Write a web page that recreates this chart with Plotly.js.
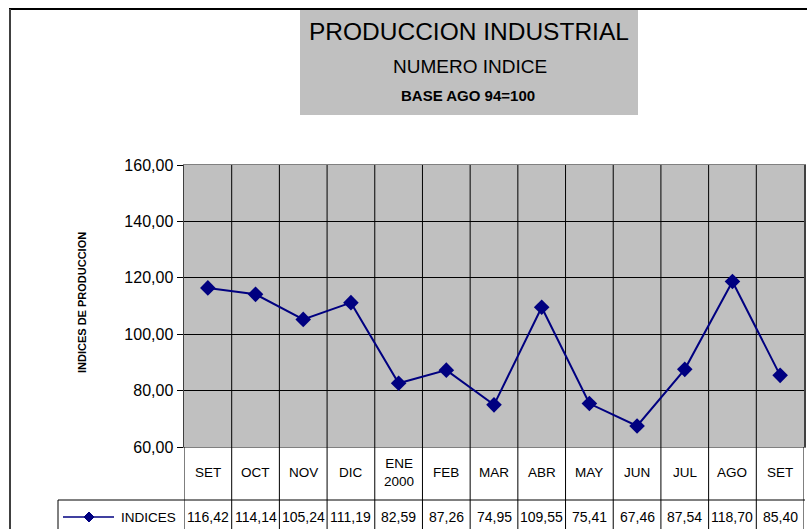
<!DOCTYPE html>
<html><head><meta charset="utf-8">
<script src="https://cdn.plot.ly/plotly-3.0.1.min.js"></script>
<style>html,body{margin:0;padding:0;background:#fff}#c{width:807px;height:529px}</style>
</head><body><div id="c"></div>
<script>
const categories = ["SET","OCT","NOV","DIC","ENE<br>2000","FEB","MAR","ABR","MAY","JUN","JUL","AGO","SET"];
const indices = [116.42,114.14,105.24,111.19,82.59,87.26,74.95,109.55,75.41,67.46,87.54,118.70,85.40];
const seriesName = "INDICES";
const titleLines = ["PRODUCCION INDUSTRIAL","NUMERO INDICE","BASE AGO 94=100"];
const yTitle = "INDICES DE PRODUCCION";

const W = 807, H = 529, L = 184, R = 3, T = 165, B = 82;
const pw = W - L - R, ph = H - T - B;
const px = q => (q - L) / pw;          // pixel x -> paper x
const py = p => (H - B - p) / ph;      // pixel y -> paper y
const FONT = "Liberation Sans, Arial, sans-serif";
const navy = "#000080";

const xs = categories.map((c, i) => i);

const shapes = [];
const annotations = [];

// table vertical lines at category boundaries
for (let i = 0; i <= categories.length; i++) {
  shapes.push({type:"line", xref:"x", yref:"paper", x0:i-0.5, x1:i-0.5, y0:0, y1:py(H+2),
    line:{color:"#000", width:1}});
}
// horizontal line between label row and value row
shapes.push({type:"line", xref:"paper", yref:"paper", x0:px(58), x1:px(805), y0:py(500), y1:py(500), line:{color:"#000", width:1}});
// legend cell left edge
shapes.push({type:"line", xref:"paper", yref:"paper", x0:px(58), x1:px(58), y0:py(500), y1:py(H+2), line:{color:"#000", width:1}});
// legend symbol line
shapes.push({type:"line", xref:"paper", yref:"paper", x0:px(63), x1:px(114), y0:py(517), y1:py(517), line:{color:navy, width:1.5}});
// legend diamond
const dx = 5/pw, dy = 5/ph, cx = px(89), cy = py(517);
shapes.push({type:"path", xref:"paper", yref:"paper",
  path:`M ${cx-dx},${cy} L ${cx},${cy+dy} L ${cx+dx},${cy} L ${cx},${cy-dy} Z`,
  fillcolor:navy, line:{color:navy, width:1}});
// title box
shapes.push({type:"rect", xref:"paper", yref:"paper", layer:"below", x0:px(300), x1:px(638), y0:py(115), y1:py(10),
  fillcolor:"#c0c0c0", line:{width:0}});
// chart border (top and left)
shapes.push({type:"line", xref:"paper", yref:"paper", x0:px(9), x1:px(W+2), y0:py(9), y1:py(9), line:{color:"#000", width:2}});
shapes.push({type:"line", xref:"paper", yref:"paper", x0:px(10), x1:px(10), y0:py(9), y1:py(H+2), line:{color:"#404040", width:2}});

// category labels and values (data table)
categories.forEach((c, i) => {
  annotations.push({xref:"x", yref:"paper", x:i, y:py(472), text:c, showarrow:false,
    font:{family:FONT, size:13.5, color:"#000"}, yanchor:"middle"});
  annotations.push({xref:"x", yref:"paper", x:i, y:py(517), text:indices[i].toFixed(2).replace(".", ","), showarrow:false,
    font:{family:FONT, size:14, color:"#000"}, yanchor:"middle"});
});
annotations.push({xref:"paper", yref:"paper", x:px(119), y:py(517), xanchor:"left", yanchor:"middle", text:seriesName,
  showarrow:false, font:{family:FONT, size:13.5, color:"#000"}});

// titles
annotations.push({xref:"paper", yref:"paper", x:px(469), y:py(31), text:titleLines[0], showarrow:false, yanchor:"middle",
  font:{family:FONT, size:24.5, color:"#000"}});
annotations.push({xref:"paper", yref:"paper", x:px(470), y:py(66), text:titleLines[1], showarrow:false, yanchor:"middle",
  font:{family:FONT, size:19, color:"#000"}});
annotations.push({xref:"paper", yref:"paper", x:px(468), y:py(95), text:"<b>"+titleLines[2]+"</b>", showarrow:false, yanchor:"middle",
  font:{family:FONT, size:15, color:"#000"}});
// y-axis title
annotations.push({xref:"paper", yref:"paper", x:px(82), y:py(303), text:"<b>"+yTitle+"</b>", showarrow:false, textangle:-90,
  xanchor:"center", yanchor:"middle", font:{family:FONT, size:11, color:"#000"}});

const trace = {
  x: xs, y: indices, type:"scatter", mode:"lines+markers", name:seriesName,
  line:{color:navy, width:2},
  marker:{symbol:"diamond", size:12, color:navy},
  hoverinfo:"skip", cliponaxis:false
};

const layout = {
  width:W, height:H, margin:{l:L, r:R, t:T, b:B, pad:0},
  paper_bgcolor:"#fff", plot_bgcolor:"#c0c0c0", showlegend:false,
  separators:",.",
  font:{family:FONT, color:"#000"},
  xaxis:{type:"linear", range:[-0.5, categories.length-0.5], showticklabels:false, ticks:"",
    showgrid:false, zeroline:false, showline:true, linecolor:"#808080", linewidth:1, mirror:true, fixedrange:true},
  yaxis:{range:[60,160], dtick:20, tick0:60, tickformat:".2f", showgrid:true, gridcolor:"#000", gridwidth:1,
    zeroline:false, showline:true, linecolor:"#404040", linewidth:1.5, mirror:true, ticks:"outside", ticklen:6,
    tickcolor:"#000", tickfont:{family:FONT, size:16, color:"#000"}, fixedrange:true},
  shapes, annotations
};
// vertical gridlines at category boundaries inside plot
for (let i = 1; i < categories.length; i++) {
  layout.shapes.push({type:"line", xref:"x", yref:"paper", x0:i-0.5, x1:i-0.5, y0:0, y1:1, layer:"below",
    line:{color:"#000", width:1}});
}
Plotly.newPlot("c", [trace], layout, {displayModeBar:false, staticPlot:true});
</script></body></html>
